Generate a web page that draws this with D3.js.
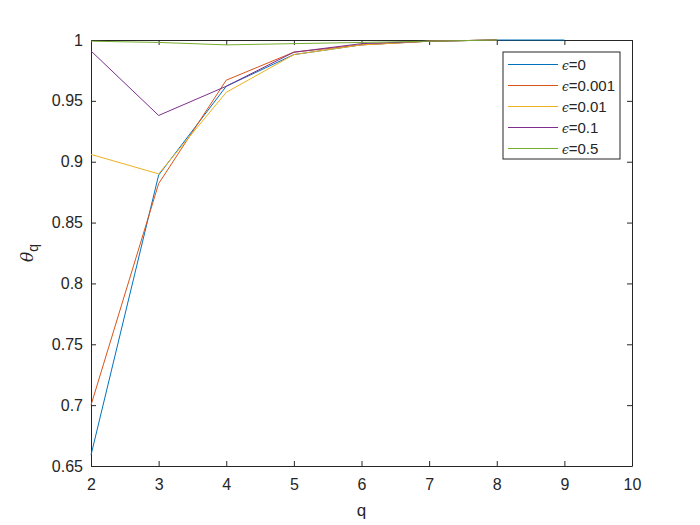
<!DOCTYPE html>
<html>
<head>
<meta charset="utf-8">
<script src="https://cdn.jsdelivr.net/npm/d3@7"></script>
<style>
  body { margin: 0; background: #fff; }
  text { font-family: "Liberation Sans", Arial, sans-serif; fill: #262626; }
</style>
</head>
<body>
<div id="chart"></div>
<script>
// data
var qBlue = [2, 3, 4, 5, 6, 7, 8, 9];
var qOther = [2, 3, 4, 5, 6, 7, 8];
var eps0 = [0.659, 0.889, 0.962, 0.988, 0.996, 0.999, 1.0, 1.0];
var eps001 = [0.700, 0.882, 0.967, 0.990, 0.996, 0.999, 1.0];
var eps01 = [0.906, 0.890, 0.957, 0.988, 0.996, 0.999, 1.0];
var eps1 = [0.991, 0.938, 0.962, 0.990, 0.997, 0.999, 1.0];
var eps5 = [0.999, 0.998, 0.996, 0.997, 0.998, 0.999, 1.0];
var seriesNames = ["0", "0.001", "0.01", "0.1", "0.5"];
var colors = ["#0072BD", "#D95319", "#EDB120", "#7E2F8E", "#77AC30"];
var xTicks = [2, 3, 4, 5, 6, 7, 8, 9, 10];
var yTicks = [0.65, 0.7, 0.75, 0.8, 0.85, 0.9, 0.95, 1];

var series = [
    { name: seriesNames[0], q: qBlue, v: eps0 },
    { name: seriesNames[1], q: qOther, v: eps001 },
    { name: seriesNames[2], q: qOther, v: eps01 },
    { name: seriesNames[3], q: qOther, v: eps1 },
    { name: seriesNames[4], q: qOther, v: eps5 }
];

var margin = { top: 40, right: 68, bottom: 59, left: 91 },
    width = 700 - margin.left - margin.right,
    height = 525 - margin.top - margin.bottom;

var svg = d3.select("#chart")
    .append("svg")
    .attr("width", 700)
    .attr("height", 525)
    .append("g")
    .attr("transform", "translate(" + margin.left + "," + margin.top + ")");

var x = d3.scaleLinear().domain([2, 10]).range([0, width]);
var y = d3.scaleLinear().domain([0.65, 1]).range([height, 0]);

// axes (box, ticks inside)
var tickLen = 5;
var axColor = "#262626";

function fmt(d) { return d3.format("")(+d.toFixed(2)); }

svg.append("g")
    .attr("transform", "translate(0," + height + ")")
    .call(d3.axisBottom(x).tickValues(xTicks).tickSizeInner(-tickLen).tickSizeOuter(0).tickPadding(13))
    .call(function(g) { g.selectAll("text").style("font-size", "16px"); });
svg.append("g")
    .call(d3.axisTop(x).tickValues(xTicks).tickSizeInner(-tickLen).tickSizeOuter(0).tickFormat(""));
svg.append("g")
    .call(d3.axisLeft(y).tickValues(yTicks).tickSizeInner(-tickLen).tickSizeOuter(0).tickPadding(8).tickFormat(fmt))
    .call(function(g) { g.selectAll("text").style("font-size", "16px"); });
svg.append("g")
    .attr("transform", "translate(" + width + ",0)")
    .call(d3.axisRight(y).tickValues(yTicks).tickSizeInner(-tickLen).tickSizeOuter(0).tickFormat(""));

svg.selectAll(".domain").attr("stroke", axColor);
svg.selectAll(".tick line").attr("stroke", axColor);
svg.selectAll(".tick text").attr("fill", axColor);

// lines (drawn over the box, like the original)
var line = d3.line()
    .x(function(d) { return x(d[0]); })
    .y(function(d) { return y(d[1]); });

svg.append("g")
    .selectAll("path")
    .data(series)
    .enter()
    .append("path")
    .attr("d", function(s) { return line(d3.zip(s.q, s.v)); })
    .attr("fill", "none")
    .attr("stroke", function(s, i) { return colors[i]; })
    .attr("stroke-width", 1);

// axis labels
svg.append("text")
    .attr("x", width / 2)
    .attr("y", height + 50)
    .attr("text-anchor", "middle")
    .style("font-size", "17px")
    .text("q");

var yl = svg.append("text")
    .attr("transform", "translate(-58," + (height / 2) + ") rotate(-90)")
    .attr("text-anchor", "middle")
    .style("font-size", "17px");
yl.append("tspan").style("font-family", "'DejaVu Serif', serif").style("font-style", "italic").text("θ");
yl.append("tspan").attr("dy", 5).style("font-size", "14px").text("q");

// legend
var lg = svg.append("g").attr("transform", "translate(" + (503 - margin.left) + "," + (52 - margin.top) + ")");
lg.append("rect")
    .attr("width", 117)
    .attr("height", 107)
    .attr("fill", "#fff")
    .attr("stroke", axColor);
var rows = lg.selectAll("g.row")
    .data(series)
    .enter()
    .append("g")
    .attr("transform", function(d, i) { return "translate(0," + (12.5 + i * 21) + ")"; });
rows.append("line")
    .attr("x1", 5).attr("x2", 55)
    .attr("stroke", function(d, i) { return colors[i]; })
    .attr("stroke-width", 1);
var lt = rows.append("text")
    .attr("x", 59)
    .attr("dy", "0.35em")
    .style("font-size", "15px");
lt.append("tspan").style("font-family", "'DejaVu Serif', serif").style("font-style", "italic").style("font-size", "12px").text("ϵ");
lt.append("tspan").text(function(d) { return "=" + d.name; });
</script>
</body>
</html>
